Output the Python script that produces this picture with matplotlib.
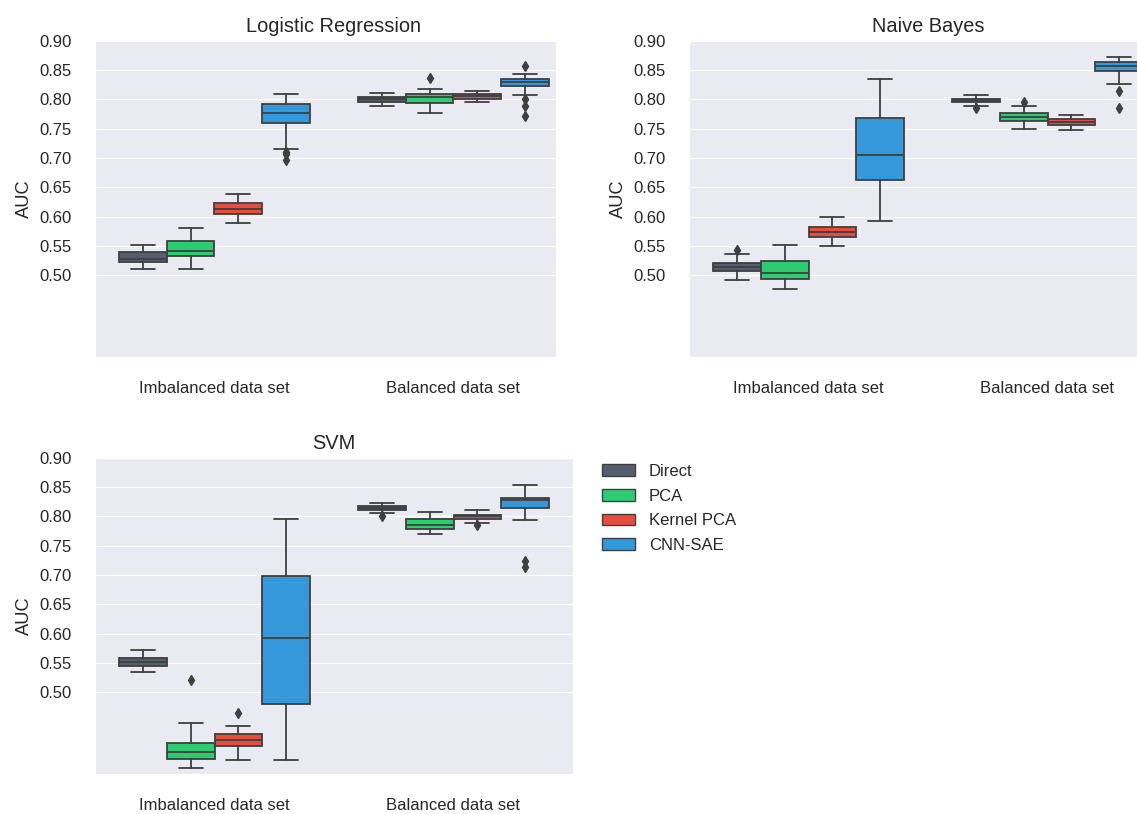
import numpy as np
import matplotlib
matplotlib.use("Agg")
import matplotlib.pyplot as plt
from matplotlib.patches import Patch
import seaborn as sns

methods = ["Direct", "PCA", "Kernel PCA", "CNN-SAE"]
groups = ["Imbalanced data set", "Balanced data set"]
colors = ["#545f6d", "#2ecc71", "#e74c3c", "#3498db"]

# five-number summaries per method: (whislo, q1, med, q3, whishi)
lr_imbalanced = [(0.510, 0.523, 0.528, 0.540, 0.551),
                 (0.510, 0.532, 0.542, 0.559, 0.580),
                 (0.589, 0.604, 0.613, 0.623, 0.638),
                 (0.716, 0.759, 0.776, 0.792, 0.809)]
lr_imbalanced_fliers = [[], [], [], [0.710, 0.707, 0.697]]
lr_balanced = [(0.789, 0.796, 0.801, 0.804, 0.811),
               (0.777, 0.793, 0.804, 0.809, 0.817),
               (0.795, 0.800, 0.805, 0.809, 0.815),
               (0.808, 0.823, 0.829, 0.835, 0.843)]
lr_balanced_fliers = [[], [0.837], [], [0.856, 0.801, 0.788, 0.772]]

nb_imbalanced = [(0.491, 0.508, 0.514, 0.520, 0.536),
                 (0.477, 0.494, 0.504, 0.525, 0.551),
                 (0.549, 0.566, 0.573, 0.583, 0.600),
                 (0.592, 0.663, 0.705, 0.769, 0.835)]
nb_imbalanced_fliers = [[0.543], [], [], []]
nb_balanced = [(0.788, 0.796, 0.799, 0.801, 0.808),
               (0.749, 0.763, 0.770, 0.776, 0.788),
               (0.748, 0.756, 0.762, 0.767, 0.774),
               (0.826, 0.848, 0.857, 0.864, 0.873)]
nb_balanced_fliers = [[0.786], [0.796], [], [0.814, 0.786]]

svm_imbalanced = [(0.535, 0.544, 0.551, 0.559, 0.572),
                  (0.370, 0.386, 0.398, 0.414, 0.448),
                  (0.385, 0.409, 0.418, 0.428, 0.442),
                  (0.384, 0.480, 0.593, 0.698, 0.796)]
svm_imbalanced_fliers = [[], [0.521], [0.464], []]
svm_balanced = [(0.806, 0.811, 0.815, 0.818, 0.823),
                (0.770, 0.779, 0.786, 0.795, 0.808),
                (0.788, 0.796, 0.800, 0.803, 0.810),
                (0.794, 0.815, 0.827, 0.832, 0.853)]
svm_balanced_fliers = [[0.801], [], [0.785], [0.724, 0.713]]

yticks = [0.50, 0.55, 0.60, 0.65, 0.70, 0.75, 0.80, 0.85, 0.90]

sns.set_style("darkgrid")
plt.rcParams["font.family"] = ["Liberation Sans", "DejaVu Sans"]
plt.rcParams["text.color"] = ".15"
plt.rcParams["axes.labelcolor"] = ".15"
plt.rcParams["xtick.color"] = ".15"
plt.rcParams["ytick.color"] = ".15"

LINE = "#3f3f3f"
W, H = 1137, 814


def draw_panel(ax, title, imb, imb_fl, bal, bal_fl, xmax=1.5):
    for g, (summ, fl) in enumerate([(imb, imb_fl), (bal, bal_fl)]):
        for i, (s, f) in enumerate(zip(summ, fl)):
            st = dict(whislo=s[0], q1=s[1], med=s[2], q3=s[3], whishi=s[4], fliers=f)
            ax.bxp([st], positions=[g - 0.3 + 0.2 * i], widths=0.2,
                   patch_artist=True, manage_ticks=False,
                   boxprops=dict(facecolor=colors[i], edgecolor=LINE, linewidth=1.3),
                   medianprops=dict(color=LINE, linewidth=1.3),
                   whiskerprops=dict(color=LINE, linewidth=1.3),
                   capprops=dict(color=LINE, linewidth=1.3),
                   flierprops=dict(marker="d", markerfacecolor=LINE,
                                   markeredgecolor=LINE, markersize=5))
    ax.set_xlim(-0.5, xmax)
    ax.set_ylim(0.36, 0.90)
    ax.set_yticks(yticks)
    ax.set_yticklabels([f"{t:.2f}" for t in yticks])
    ax.set_xticks([0, 1])
    ax.set_xticklabels(groups)
    ax.xaxis.grid(False)
    ax.tick_params(axis="both", labelsize=12, pad=17, length=0)
    ax.set_ylabel("AUC", fontsize=13.2)
    # centre the title over the two groups
    ax.set_title(title, fontsize=14.4, x=(0.5 + 0.5) / (xmax + 0.5))


def px_axes(fig, left, top, width, height):
    return fig.add_axes([left / W, 1 - (top + height) / H, width / W, height / H])


fig = plt.figure(figsize=(W / 100, H / 100), dpi=100)

ax_lr = px_axes(fig, 95, 40.7, 461, 316.6)
draw_panel(ax_lr, "Logistic Regression", lr_imbalanced, lr_imbalanced_fliers,
           lr_balanced, lr_balanced_fliers, xmax=1.429)

ax_nb = px_axes(fig, 689, 40.7, 478, 316.6)
draw_panel(ax_nb, "Naive Bayes", nb_imbalanced, nb_imbalanced_fliers,
           nb_balanced, nb_balanced_fliers)

ax_svm = px_axes(fig, 95, 457.7, 478, 316.6)
draw_panel(ax_svm, "SVM", svm_imbalanced, svm_imbalanced_fliers,
           svm_balanced, svm_balanced_fliers)

handles = [Patch(facecolor=c, edgecolor=LINE, linewidth=1.0, label=m)
           for c, m in zip(colors, methods)]
fig.legend(handles=handles, loc="upper left", bbox_to_anchor=(587 / W, 1 - 449 / H),
           frameon=False, fontsize=12, labelspacing=0.58)

fig.savefig("out.png", dpi=100)
